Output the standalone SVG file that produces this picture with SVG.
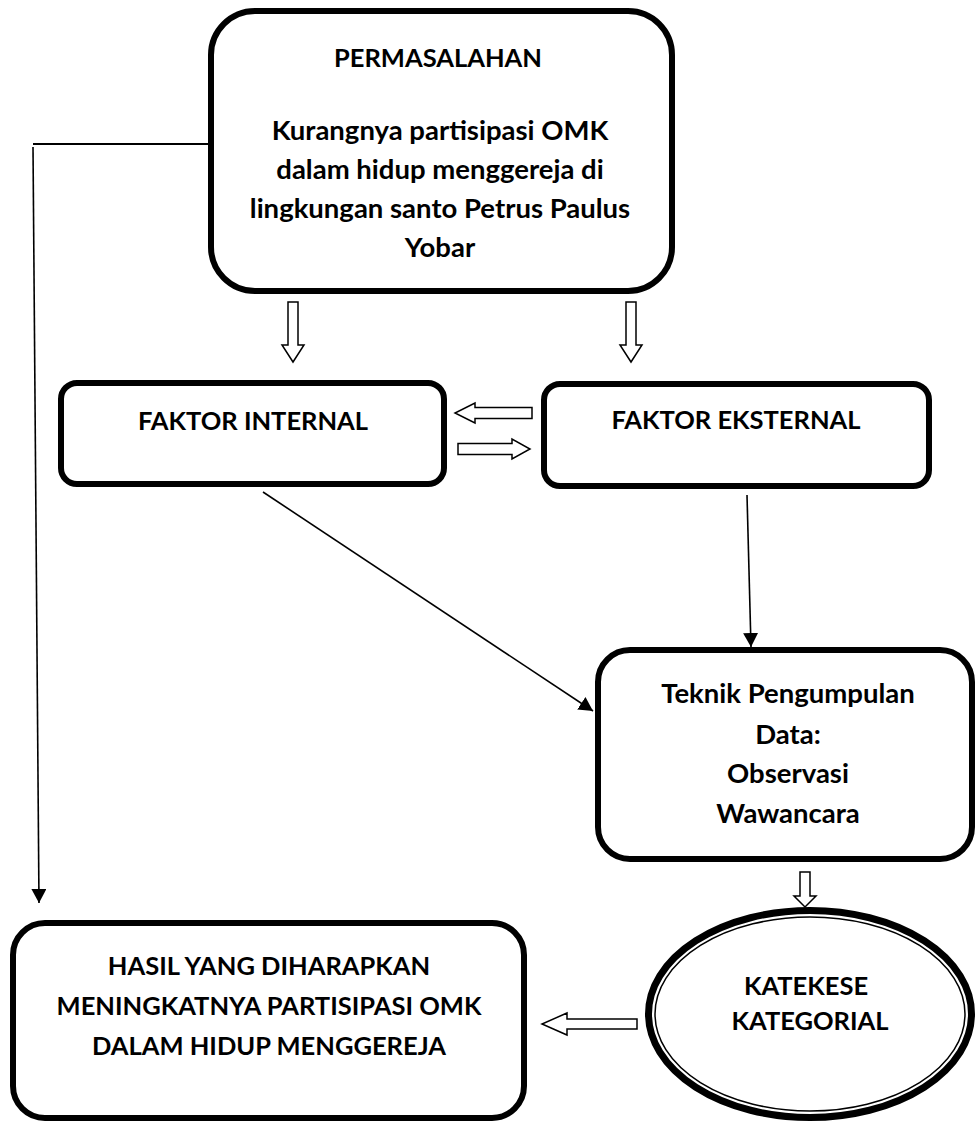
<svg xmlns="http://www.w3.org/2000/svg" width="977" height="1124" viewBox="0 0 977 1124">
<style>
.box{fill:#fff;stroke:#000;stroke-width:6}
.t{font-family:Lato,"Liberation Sans",sans-serif;font-weight:bold;font-size:25.5px;text-anchor:middle;fill:#000}
.l{font-size:27.5px}
.blk{fill:#fff;stroke:#000;stroke-width:1.5;stroke-linejoin:miter}
.ln{fill:none;stroke:#000;stroke-width:1.6}
</style>
<defs>
<marker id="ah" viewBox="0 0 14 15" refX="14" refY="7.5" markerWidth="14" markerHeight="15" markerUnits="userSpaceOnUse" orient="auto">
<path d="M0,0 L14,7.5 L0,15 Z" fill="#000"/>
</marker>
</defs>
<rect width="977" height="1124" fill="#fff"/>
<g id="connectors">
<line class="ln" x1="33" y1="144" x2="210" y2="144" style="stroke-width:2"/>
<line class="ln" x1="33" y1="147" x2="39" y2="903" marker-end="url(#ah)"/>
<line class="ln" x1="263" y1="492" x2="593" y2="711" marker-end="url(#ah)"/>
<line class="ln" x1="747" y1="495" x2="751" y2="647" marker-end="url(#ah)"/>
<path class="blk" d="M288,302 L298,302 L298,345 L304,345 L293,362 L282,345 L288,345 Z"/>
<path class="blk" d="M626,302 L636,302 L636,345 L642,345 L631,362 L620,345 L626,345 Z"/>
<path class="blk" d="M532,407.5 L475,407.5 L475,403 L455,413 L475,423 L475,418.5 L532,418.5 Z"/>
<path class="blk" d="M458,443.5 L512,443.5 L512,439 L530,449 L512,459 L512,454.5 L458,454.5 Z"/>
<path class="blk" d="M800,872 L810,872 L810,896 L816,896 L805,907 L794,896 L800,896 Z"/>
<path class="blk" d="M637,1019 L567,1019 L567,1013 L542,1024 L567,1035 L567,1029 L637,1029 Z"/>
</g>
<g id="permasalahan">
<rect class="box" x="211" y="11" width="461" height="280" rx="44"/>
<text class="t" x="438" y="67">PERMASALAHAN</text>
<text class="t l" x="440" y="140">Kurangnya partisipasi OMK</text>
<text class="t l" x="440" y="179">dalam hidup menggereja di</text>
<text class="t l" x="440" y="218">lingkungan santo Petrus Paulus</text>
<text class="t l" x="440" y="257">Yobar</text>
</g>
<g id="faktor-internal">
<rect class="box" x="61" y="383" width="383" height="101" rx="16"/>
<text class="t" x="253" y="430">FAKTOR INTERNAL</text>
</g>
<g id="faktor-eksternal">
<rect class="box" x="544" y="384" width="385" height="102" rx="16"/>
<text class="t" x="736" y="429">FAKTOR EKSTERNAL</text>
</g>
<g id="teknik">
<rect class="box" x="598" y="650" width="374" height="209" rx="32"/>
<text class="t l" x="788" y="703">Teknik Pengumpulan</text>
<text class="t l" x="788" y="744">Data:</text>
<text class="t l" x="788" y="783">Observasi</text>
<text class="t l" x="788" y="823">Wawancara</text>
</g>
<g id="katekese">
<ellipse cx="810" cy="1014" rx="161.5" ry="103.5" fill="#fff" stroke="#000" stroke-width="7"/>
<ellipse cx="810" cy="1014" rx="155" ry="97" fill="none" stroke="#000" stroke-width="1.5"/>
<text class="t" x="806" y="995">KATEKESE</text>
<text class="t" x="810" y="1030">KATEGORIAL</text>
</g>
<g id="hasil">
<rect class="box" x="13" y="923" width="511" height="195" rx="32"/>
<text class="t" x="269" y="975">HASIL YANG DIHARAPKAN</text>
<text class="t" x="269" y="1015">MENINGKATNYA PARTISIPASI OMK</text>
<text class="t" x="269" y="1055">DALAM HIDUP MENGGEREJA</text>
</g>
</svg>
